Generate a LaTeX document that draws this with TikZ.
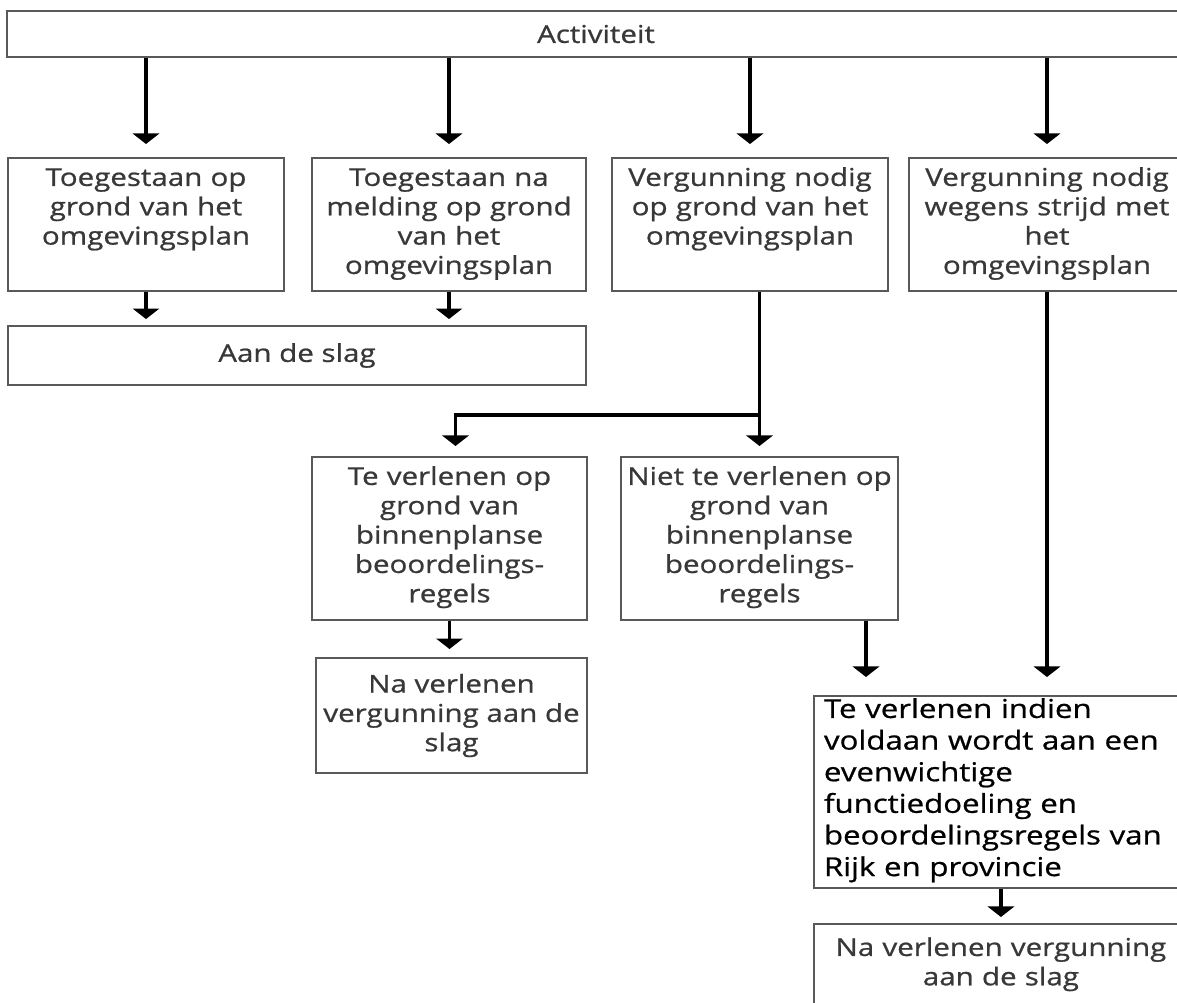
\documentclass[tikz,border=0pt]{standalone}
\usepackage{fontspec}
\setmainfont{Open Sans}[FakeStretch=1.2,FakeBold=0.8]
\usepackage{tikz}
\usetikzlibrary{arrows.meta,positioning,calc}
\tikzstyle{line} = [draw, line width=2pt, -{Triangle[width=15pt,length=6pt]}]
\tikzstyle{box} = [draw=black!65, line width=1.1pt, inner sep=0pt, align=center, text=black!78, font=\fontsize{14}{16.7}\selectfont]
\tikzstyle{rowbox} = [box, anchor=north, text height=15.9pt, text depth=#1]

\begin{document}
\begin{tikzpicture}[x=0.02cm,y=-0.02cm]
  \path[use as bounding box, fill=white] (0,0) rectangle (1177,1002);

  % top row
  \node[box, minimum width=23.56cm, minimum height=0.92cm] (act) at (596,34) {Activiteit};

  % second row
  \node[rowbox=59.8pt, text width=5.52cm] (toe) at (146,157) {Toegestaan op\\grond van het\\omgevingsplan};
  \node[rowbox=59.8pt, text width=5.48cm] (mel) at (449,157) {Toegestaan na\\melding op grond\\van het\\omgevingsplan};
  \node[rowbox=59.8pt, text width=5.52cm] (verg) at (750,157) {Vergunning nodig\\op grond van het\\omgevingsplan};
  \node[rowbox=59.8pt, text width=5.52cm] (strijd) at (1047,157) {Vergunning nodig\\wegens strijd met\\het\\omgevingsplan};

  \node[box, minimum width=11.56cm, minimum height=1.18cm] (slag) at (297,355.5) {Aan de slag};

  % binnenplans
  \node[rowbox=76.9pt, text width=5.5cm] (wel) at (449.5,456) {Te verlenen op\\grond van\\binnenplanse\\beoordelings-\\regels};
  \node[rowbox=76.9pt, text width=5.54cm] (niet) at (759.5,456) {Niet te verlenen op\\grond van\\binnenplanse\\beoordelings-\\regels};
  \node[box, minimum width=5.42cm, minimum height=2.3cm] (slag2) at (451.5,715.5) {Na verlenen\\vergunning aan de\\slag};

  % buitenplans
  \node[box, anchor=north west, align=left, text=black, inner xsep=0.2cm, text width=7.08cm, text height=12.5pt, text depth=96.8pt, font=\fontsize{14.8}{18}\selectfont] (rijk) at (813,695) {Te verlenen indien\\voldaan wordt aan een\\evenwichtige\\functiedoeling en\\beoordelingsregels van\\Rijk en provincie};
  \node[box, anchor=north west, text width=7.48cm, text height=18.2pt, text depth=40pt] (slag3) at (813,923) {Na verlenen vergunning\\aan de slag};

  \coordinate (split) at (759,415);

  \draw[line, shorten >=0.26cm] (act.south -| toe.north) -- (toe.north);
  \draw[line, shorten >=0.26cm] (act.south -| mel.north) -- (mel.north);
  \draw[line, shorten >=0.26cm] (act.south -| verg.north) -- (verg.north);
  \draw[line, shorten >=0.26cm] (act.south -| strijd.north) -- (strijd.north);

  \draw[line, shorten >=0.12cm] (toe.south) -- (toe.south |- slag.north);
  \draw[line, shorten >=0.12cm] (mel.south) -- (mel.south |- slag.north);

  \draw[line, shorten >=0.2cm] (verg.south -| niet.north) -- (niet.north);
  \draw[line, shorten >=0.2cm] (split) -| ([xshift=0.12cm]wel.north);
  \draw[line, shorten >=0.16cm] (wel.south) -- (wel.south |- slag2.north);

  \draw[line, shorten >=0.36cm] ([xshift=2.13cm]niet.south) -- ([xshift=2.13cm]niet.south |- rijk.north);
  \draw[line, shorten >=0.36cm] (strijd.south) -- (strijd.south |- rijk.north);
  \draw[line, shorten >=0.12cm] (rijk.south) -- (rijk.south |- slag3.north);
\end{tikzpicture}
\end{document}
